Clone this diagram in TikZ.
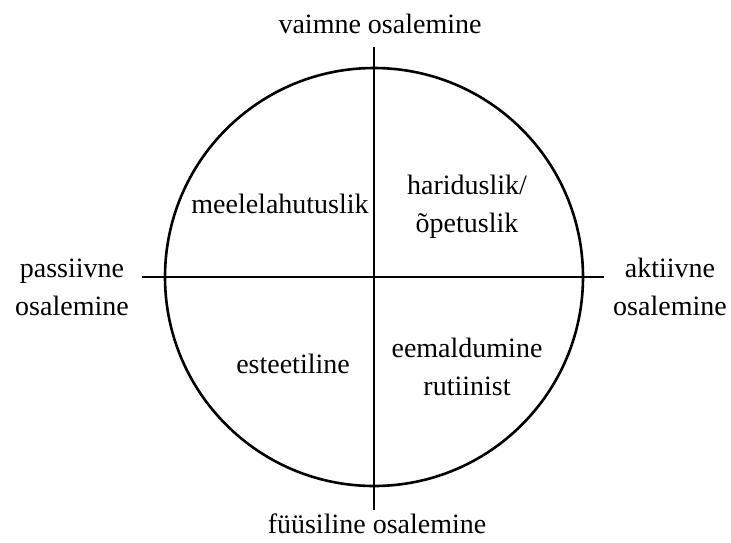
\documentclass[tikz,border=0pt]{standalone}
\usepackage{fontspec}
\setmainfont{Liberation Serif}
\begin{document}
\begin{tikzpicture}[x=1pt,y=-1pt,
  lbl/.style={font=\fontsize{28}{38}\selectfont, align=center, anchor=base, inner sep=0pt},
  axis/.style={line width=1.8pt, black},
  ring/.style={line width=2.6pt, black}]
\useasboundingbox (0,0) rectangle (731,542);
\coordinate (c) at (374,277);
\node[ring, circle, draw, minimum size=418pt, inner sep=0pt] (circ) at (c) {};
\coordinate (top) at (374,47);
\coordinate (bot) at (374,510);
\coordinate (lft) at (142,277);
\coordinate (rgt) at (604,277);
\draw[axis] (top) -- (bot);
\draw[axis] (lft) -- (rgt);
\node[lbl] (vaimne) at (380,33) {vaimne osalemine};
\node[lbl] (fyysiline) at (377,533) {füüsiline osalemine};
\node[lbl] (passiivne) at (72,315) {passiivne\\osalemine};
\node[lbl] (aktiivne) at (670,315) {aktiivne\\osalemine};
\node[lbl] (meele) at (280,213) {meelelahutuslik};
\node[lbl] (haridus) at (467,232) {hariduslik/\\õpetuslik};
\node[lbl] (esteet) at (293,373) {esteetiline};
\node[lbl] (eemald) at (467,395) {eemaldumine\\rutiinist};
\end{tikzpicture}
\end{document}
